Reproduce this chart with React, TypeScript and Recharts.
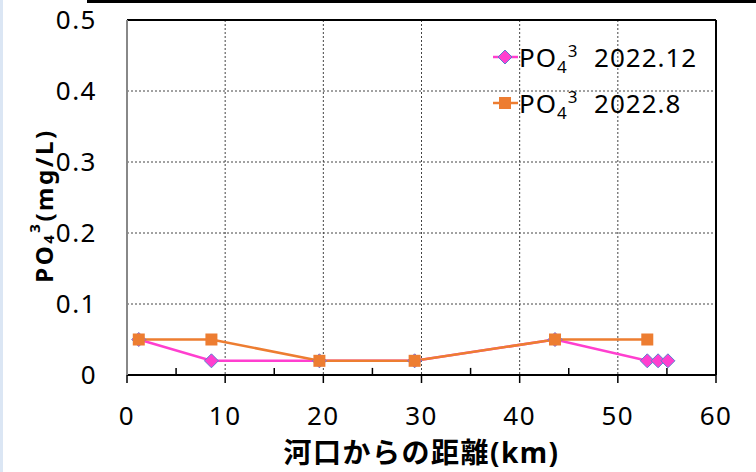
import React from "react";
import { LineChart, Line, XAxis, YAxis, CartesianGrid, ReferenceLine } from "recharts";

// distance from river mouth (km) and PO4 concentration (mg/L)
const kmDec = [1.2, 8.6, 19.6, 29.3, 43.6, 53.0, 54.1, 55.1];
const po4Dec = [0.05, 0.02, 0.02, 0.02, 0.05, 0.02, 0.02, 0.02];
const kmAug = [1.2, 8.6, 19.6, 29.3, 43.6, 53.0];
const po4Aug = [0.05, 0.05, 0.02, 0.02, 0.05, 0.05];

const xTicks = [0, 10, 20, 30, 40, 50, 60];
const xMinorTicks = [5, 15, 25, 35, 45, 55];
const yTicks = [0, 0.1, 0.2, 0.3, 0.4, 0.5];

const decData = kmDec.map((km, i) => ({ km, po4: po4Dec[i] }));
const augData = kmAug.map((km, i) => ({ km, po4: po4Aug[i] }));

const PINK = "#ff3fcf";
const ORANGE = "#ed7d31";
const FONT = "'Noto Sans', 'Noto Sans CJK JP', sans-serif";
const TICK = { fill: "#000", fontSize: 26, fontFamily: FONT, letterSpacing: 1.5 };

const Diamond = (props: any) => {
  const { cx, cy, size = 7 } = props;
  if (cx == null || cy == null) return null;
  return (
    <polygon
      points={`${cx},${cy - size} ${cx + size},${cy} ${cx},${cy + size} ${cx - size},${cy}`}
      fill={PINK}
      stroke="#5b7fd0"
      strokeWidth={1}
    />
  );
};

const Square = (props: any) => {
  const { cx, cy, size = 6 } = props;
  if (cx == null || cy == null) return null;
  return <rect x={cx - size} y={cy - size} width={size * 2} height={size * 2} fill={ORANGE} />;
};

const LegendBox = () => {
  const rows = [
    { label: "2022.12", color: PINK, icon: <Diamond cx={12} cy={12} size={7} /> },
    { label: "2022.8", color: ORANGE, icon: <Square cx={12} cy={12} size={6} /> },
  ];
  return (
    <div
      style={{
        position: "absolute",
        left: 493,
        top: 34,
        fontFamily: FONT,
        fontSize: 26,
        letterSpacing: 1,
        color: "#000",
      }}
    >
      {rows.map((r) => (
        <div key={r.label} style={{ display: "flex", alignItems: "center", height: 46 }}>
          <svg width={25} height={24} style={{ marginRight: 1 }}>
            <line x1={0} y1={12} x2={25} y2={12} stroke={r.color} strokeWidth={2.5} />
            {r.icon}
          </svg>
          <span style={{ lineHeight: "30px" }}>
            PO<sub style={{ fontSize: 17, lineHeight: 0 }}>4</sub>
            <sup style={{ fontSize: 17, lineHeight: 0 }}>3</sup>
            {"\u00a0\u00a0" + r.label}
          </span>
        </div>
      ))}
    </div>
  );
};

const YLabel = (props: any) => {
  const { viewBox } = props;
  const cy = viewBox.y + viewBox.height / 2 + 8;
  const cx = 43;
  return (
    <text
      x={cx}
      y={cy}
      transform={`rotate(-90 ${cx} ${cy})`}
      textAnchor="middle"
      dominantBaseline="central"
      fontFamily={FONT}
      fontWeight="bold"
      fontSize={24}
      letterSpacing={2.5}
      fill="#000"
    >
      PO
      <tspan fontSize={15} dy={5}>4</tspan>
      <tspan fontSize={15} dy={-14}>3</tspan>
      <tspan dy={9}>(mg/L)</tspan>
    </text>
  );
};

const XLabel = (props: any) => {
  const { viewBox } = props;
  return (
    <text
      x={viewBox.x + viewBox.width / 2}
      y={463}
      textAnchor="middle"
      fontFamily={FONT}
      fontWeight="bold"
      fontSize={28}
      letterSpacing={1.5}
      fill="#000"
    >
      河口からの距離(km)
    </text>
  );
};

export default function App() {
  return (
    <div style={{ position: "absolute", left: 0, top: 0, width: 756, height: 472, background: "#fff" }}>
      <div style={{ position: "absolute", left: 0, top: 0, width: 3, height: 472, background: "#dbe6f4" }} />
      <div style={{ position: "absolute", left: 87, top: 0, width: 669, height: 3, background: "#000" }} />
      <LineChart width={756} height={472} margin={{ top: 20, right: 40, left: 0, bottom: 0 }}>
        <CartesianGrid stroke="#444" strokeDasharray="2 2" strokeWidth={1} />
        <XAxis
          type="number"
          dataKey="km"
          domain={[0, 60]}
          ticks={xTicks}
          height={97}
          tickSize={8}
          tickMargin={24}
          axisLine={{ stroke: "#000", strokeWidth: 2 }}
          tickLine={{ stroke: "#000", strokeWidth: 1.5 }}
          tick={TICK}
          label={<XLabel />}
        />
        <YAxis
          type="number"
          domain={[0, 0.5]}
          ticks={yTicks}
          width={127}
          tickSize={0}
          tickMargin={30}
          tickLine={false}
          axisLine={{ stroke: "#888", strokeWidth: 2 }}
          tick={TICK}
          tickFormatter={(v: number) => (v === 0 ? "0" : v.toFixed(1))}
          label={<YLabel />}
        />
        <ReferenceLine y={0.5} stroke="#000" strokeWidth={2} />
        <ReferenceLine x={60} stroke="#000" strokeWidth={2} />
        {xMinorTicks.map((t) => (
          <ReferenceLine
            key={t}
            segment={[{ x: t, y: 0 }, { x: t, y: 0.01 }]}
            stroke="#000"
            strokeWidth={1.5}
          />
        ))}
        <Line
          data={decData}
          dataKey="po4"
          stroke={PINK}
          strokeWidth={2.5}
          dot={<Diamond />}
          activeDot={false}
          isAnimationActive={false}
        />
        <Line
          data={augData}
          dataKey="po4"
          stroke={ORANGE}
          strokeWidth={2.5}
          dot={<Square />}
          activeDot={false}
          isAnimationActive={false}
        />
      </LineChart>
      <LegendBox />
    </div>
  );
}
